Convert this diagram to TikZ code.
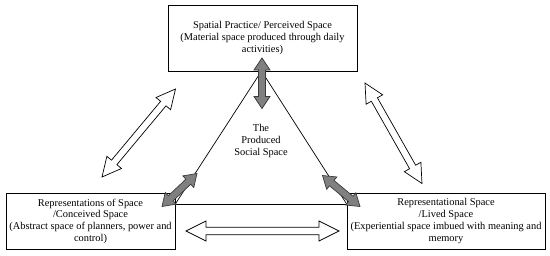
\documentclass[tikz,border=0pt]{standalone}
\usepackage{fontspec}
\setmainfont{Liberation Serif}
\usetikzlibrary{calc}
\definecolor{arrgray}{HTML}{808080}
\definecolor{arredge}{HTML}{3A3A3A}
% #1 style, #2 start, #3 end, #4 head length, #5 head half width, #6 shaft half width
\newcommand{\blockarr}[6]{%
  \filldraw[#1] (#2)
    -- ($(#2)!#4!(#3)!#5!90:(#3)$)
    -- ($(#2)!#4!(#3)!#6!90:(#3)$)
    -- ($(#3)!#4!(#2)!#6!-90:(#2)$)
    -- ($(#3)!#4!(#2)!#5!-90:(#2)$)
    -- (#3)
    -- ($(#3)!#4!(#2)!#5!90:(#2)$)
    -- ($(#3)!#4!(#2)!#6!90:(#2)$)
    -- ($(#2)!#4!(#3)!#6!-90:(#3)$)
    -- ($(#2)!#4!(#3)!#5!-90:(#3)$)
    -- cycle;}
\begin{document}
\begin{tikzpicture}[x=1pt,y=-1pt,
  box/.style={draw, fill=white, line width=0.7pt, align=center, inner sep=0pt,
    font=\fontsize{10.4}{11.7}\selectfont},
  tri/.style={draw, line width=0.7pt},
  greyarr/.style={fill=arrgray, draw=arredge, line width=0.7pt, line join=miter},
  whitearr/.style={fill=white, draw=black, line width=0.7pt, line join=miter},
  label/.style={align=center, inner sep=0pt, font=\fontsize{10.4}{11.7}\selectfont}]
\useasboundingbox (0,0) rectangle (550,255);
% triangle vertices
\coordinate (tA) at (261.5,71);
\coordinate (tL) at (175,204.5);
\coordinate (tR) at (347,204.5);
\draw[tri] (tA) -- (tL) -- (tR) -- cycle;
% boxes
\node[box, minimum width=189pt, minimum height=66pt] (top) at (262.5,38)
  {Spatial Practice/ Perceived Space\\(Material space produced through daily\\activities)};
\node[box, minimum width=169pt, minimum height=56pt] (left) at (90.5,221)
  {Representations of Space\\/Conceived Space\\(Abstract space of planners, power and\\control)};
\node[box, minimum width=198pt, minimum height=56pt] (right) at (446,221)
  {Representational Space\\/Lived Space\\(Experiential space imbued with meaning and\\memory};
\node[label] (centre) at (261,141) {The\\Produced\\Social Space};
% arrow end points
\coordinate (g1a) at (262,58);
\coordinate (g1b) at (262,108.5);
\coordinate (g2a) at (162,206.5);
\coordinate (g2b) at (197,173.5);
\coordinate (g3a) at (322.5,175.5);
\coordinate (g3b) at (360,206.5);
\coordinate (w1a) at (102,177);
\coordinate (w1b) at (175.5,89);
\coordinate (w2a) at (365,83);
\coordinate (w2b) at (422,183.5);
\coordinate (w3a) at (186,231);
\coordinate (w3b) at (339,231);
% grey arrows
\blockarr{greyarr}{g1a}{g1b}{12pt}{8pt}{3.5pt}
\blockarr{greyarr}{g2a}{g2b}{12pt}{8pt}{3.5pt}
\blockarr{greyarr}{g3a}{g3b}{12pt}{8pt}{3.5pt}
% white arrows
\blockarr{whitearr}{w1a}{w1b}{19pt}{9.5pt}{3.5pt}
\blockarr{whitearr}{w2a}{w2b}{19pt}{9.5pt}{3.5pt}
\blockarr{whitearr}{w3a}{w3b}{20pt}{10pt}{3.8pt}
\end{tikzpicture}
\end{document}
